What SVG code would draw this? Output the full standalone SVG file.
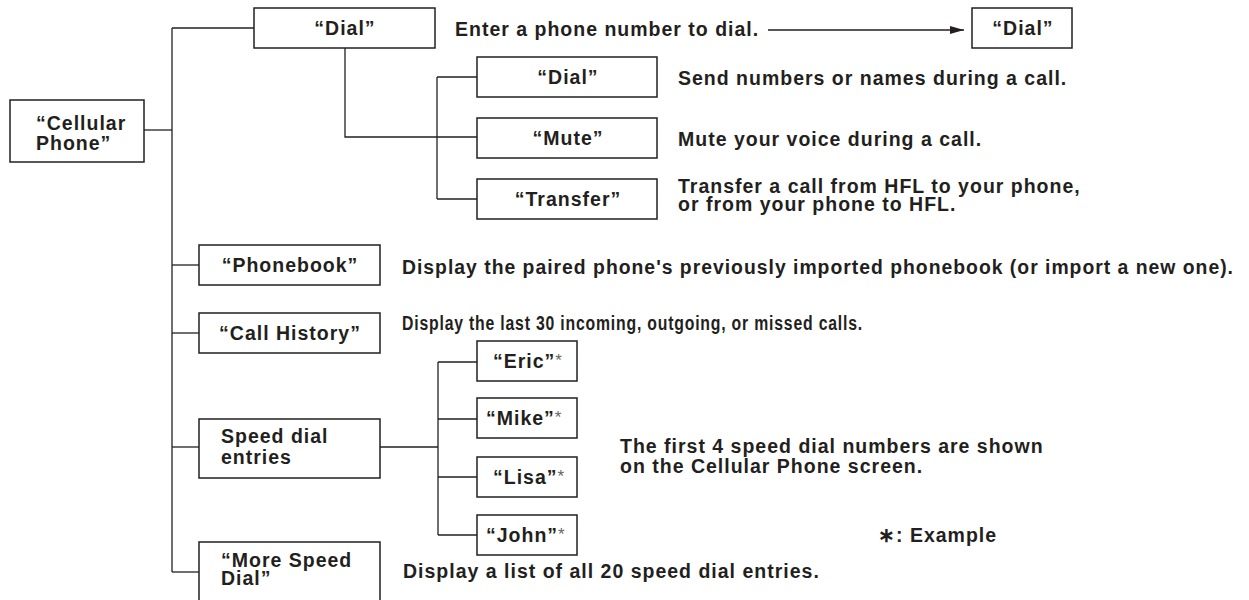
<svg xmlns="http://www.w3.org/2000/svg" width="1249" height="600" viewBox="0 0 1249 600">
<defs>
<marker id="arr" markerWidth="14" markerHeight="8" refX="14" refY="4" orient="auto" markerUnits="userSpaceOnUse"><path d="M0,0 L14,4 L0,8 Z" fill="#231f20"/></marker>
<style>
.n rect{fill:#fff;stroke:#231f20;stroke-width:1.5}
.c line,.c polyline{stroke:#231f20;stroke-width:1.3;fill:none}
text{font-family:"Liberation Sans",Arial,sans-serif;font-weight:bold;font-size:19.5px;fill:#231f20;letter-spacing:1px}
.m{text-anchor:middle}
.s{font-size:17px;font-weight:normal;fill:#666;letter-spacing:0}
</style>
</defs>
<rect width="1249" height="600" fill="#fff"/>
<g class="c" id="connectors">
<line x1="144" y1="130" x2="172" y2="130"/>
<line x1="172" y1="28" x2="172" y2="572"/>
<line x1="172" y1="28" x2="254" y2="28"/>
<line x1="172" y1="265" x2="199" y2="265"/>
<line x1="172" y1="333" x2="199" y2="333"/>
<line x1="172" y1="447" x2="199" y2="447"/>
<line x1="172" y1="572" x2="199" y2="572"/>
<polyline points="345,48 345,137 477,137"/>
<line x1="437" y1="77" x2="437" y2="199"/>
<line x1="437" y1="77" x2="477" y2="77"/>
<line x1="437" y1="199" x2="477" y2="199"/>
<line x1="380" y1="447" x2="438" y2="447"/>
<line x1="438" y1="362" x2="438" y2="535"/>
<line x1="438" y1="362" x2="477" y2="362"/>
<line x1="438" y1="419" x2="477" y2="419"/>
<line x1="438" y1="477" x2="477" y2="477"/>
<line x1="438" y1="535" x2="477" y2="535"/>
<line x1="768" y1="30" x2="964" y2="30" marker-end="url(#arr)"/>
</g>
<g class="n" id="cellular"><rect x="10" y="100" width="134" height="62"/><text x="36" y="130">“Cellular<tspan x="36" y="150">Phone”</tspan></text></g>
<g class="n" id="dial"><rect x="254" y="8" width="181" height="40"/><text class="m" x="345" y="35">“Dial”</text></g>
<g class="n" id="dial-text"><text x="455" y="36">Enter a phone number to dial.</text></g>
<g class="n" id="dial-target"><rect x="972" y="8" width="100" height="40"/><text class="m" x="1023" y="35">“Dial”</text></g>
<g class="n" id="sub-dial"><rect x="477" y="57" width="180" height="40"/><text class="m" x="568" y="84">“Dial”</text><text x="678" y="85">Send numbers or names during a call.</text></g>
<g class="n" id="mute"><rect x="477" y="118" width="180" height="40"/><text class="m" x="568" y="145">“Mute”</text><text x="678" y="146">Mute your voice during a call.</text></g>
<g class="n" id="transfer"><rect x="477" y="179" width="180" height="40"/><text class="m" x="568" y="206">“Transfer”</text><text x="678" y="193">Transfer a call from HFL to your phone,<tspan x="678" y="211">or from your phone to HFL.</tspan></text></g>
<g class="n" id="phonebook"><rect x="199" y="245" width="181" height="40"/><text class="m" x="290" y="272">“Phonebook”</text><text x="402" y="274" textLength="832" lengthAdjust="spacingAndGlyphs">Display the paired phone's previously imported phonebook (or import a new one).</text></g>
<g class="n" id="call-history"><rect x="199" y="313" width="181" height="40"/><text class="m" x="290" y="340">“Call History”</text><text x="402" y="330" textLength="461" lengthAdjust="spacingAndGlyphs">Display the last 30 incoming, outgoing, or missed calls.</text></g>
<g class="n" id="speed"><rect x="199" y="419" width="181" height="59"/><text x="221" y="443">Speed dial<tspan x="221" y="464">entries</tspan></text></g>
<g class="n" id="eric"><rect x="477" y="341" width="100" height="40"/><text x="493" y="368">“Eric”<tspan class="s" dy="-2">*</tspan></text></g>
<g class="n" id="mike"><rect x="477" y="398" width="100" height="40"/><text x="486" y="425">“Mike”<tspan class="s" dy="-2">*</tspan></text></g>
<g class="n" id="lisa"><rect x="477" y="457" width="100" height="40"/><text x="493" y="484">“Lisa”<tspan class="s" dy="-2">*</tspan></text></g>
<g class="n" id="john"><rect x="477" y="515" width="100" height="40"/><text x="486" y="542">“John”<tspan class="s" dy="-2">*</tspan></text></g>
<g id="note"><text x="620" y="453">The first 4 speed dial numbers are shown<tspan x="620" y="473">on the Cellular Phone screen.</tspan></text><text x="878" y="542">∗: Example</text></g>
<g class="n" id="more"><rect x="199" y="542" width="181" height="60"/><text x="221" y="567">“More Speed<tspan x="221" y="585">Dial”</tspan></text><text x="403" y="578">Display a list of all 20 speed dial entries.</text></g>
</svg>
